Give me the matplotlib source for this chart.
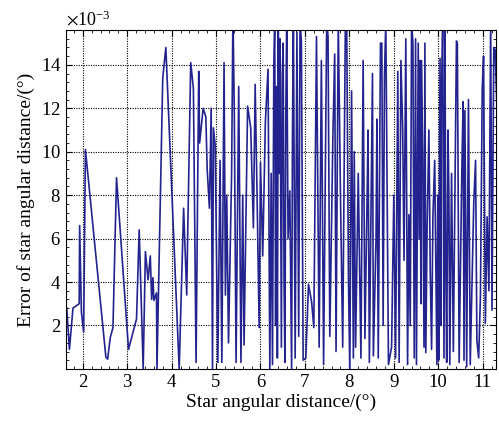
import matplotlib
matplotlib.use("Agg")
import matplotlib.pyplot as plt
from matplotlib.ticker import MultipleLocator, AutoMinorLocator, ScalarFormatter

plt.rcParams['font.family'] = ['Liberation Serif', 'DejaVu Serif']
plt.rcParams['mathtext.fontset'] = 'stix'

# star angular distance (deg) and its error (x 1e-3 deg)
angle = [
    1.64, 1.70, 1.78, 1.92, 1.93, 1.97, 2.02, 2.06, 2.52, 2.56, 2.62, 2.68,
    2.76, 3.03, 3.21, 3.27, 3.36, 3.41, 3.47, 3.52, 3.55, 3.58, 3.60, 3.66,
    3.67, 3.80, 3.87, 4.17, 4.27, 4.34, 4.36, 4.43, 4.49, 4.55, 4.61, 4.63,
    4.71, 4.77, 4.80, 4.85, 4.89, 4.92, 4.94, 4.98, 5.00, 5.04, 5.09, 5.13,
    5.18, 5.21, 5.24, 5.28, 5.35, 5.38, 5.41, 5.45, 5.51, 5.56, 5.60, 5.63,
    5.71, 5.78, 5.84, 5.88, 5.93, 5.97, 6.00, 6.05, 6.11, 6.17, 6.21, 6.24,
    6.27, 6.30, 6.32, 6.34, 6.36, 6.38, 6.40, 6.42, 6.44, 6.47, 6.49, 6.51,
    6.53, 6.55, 6.57, 6.59, 6.62, 6.66, 6.70, 6.72, 6.74, 6.78, 6.82, 6.86,
    6.89, 6.92, 6.96, 7.02, 7.08, 7.15, 7.20, 7.26, 7.32, 7.37, 7.42, 7.49,
    7.52, 7.56, 7.63, 7.67, 7.70, 7.75, 7.80, 7.85, 7.91, 7.94, 7.98, 8.01,
    8.05, 8.09, 8.11, 8.14, 8.20, 8.26, 8.31, 8.35, 8.40, 8.42, 8.45, 8.52,
    8.54, 8.60, 8.62, 8.65, 8.70, 8.73, 8.76, 8.79, 8.82, 8.86, 8.88, 8.95,
    9.00, 9.04, 9.09, 9.12, 9.16, 9.20, 9.23, 9.27, 9.31, 9.34, 9.37, 9.40,
    9.43, 9.46, 9.49, 9.51, 9.55, 9.57, 9.59, 9.61, 9.62, 9.65, 9.68, 9.70,
    9.72, 9.75, 9.79, 9.82, 9.85, 9.88, 9.92, 9.97, 9.99, 10.01, 10.04, 10.06,
    10.07, 10.10, 10.13, 10.15, 10.17, 10.19, 10.22, 10.24, 10.26, 10.30,
    10.34, 10.41, 10.43, 10.47, 10.53, 10.56, 10.58, 10.60, 10.64, 10.68,
    10.72, 10.80, 10.84, 10.87, 10.91, 10.95, 10.99, 11.02, 11.06, 11.10,
    11.14, 11.18, 11.21, 11.25, 11.28, 11.33,
]
error = [
    2.8, 0.9, 2.8, 3.0, 6.6, 2.6, 1.7, 10.1, 0.55, 0.45, 1.45, 1.9,
    8.8, 0.9, 2.3, 6.4, 0.0, 5.4, 4.1, 5.2, 3.2, 4.2, 3.15, 3.5,
    0.0, 13.4, 14.8, 0.0, 7.4, 3.4, 6.0, 14.1, 12.9, 0.3, 13.7, 10.4,
    12.0, 11.6, 9.2, 7.4, 12.0, 0.0, 11.1, 10.3, 7.1, 0.3, 9.6, 0.3,
    14.1, 3.4, 8.0, 1.2, 9.0, 16.5, 11.9, 0.3, 13.0, 0.3, 8.0, 1.1,
    12.1, 11.1, 6.5, 13.1, 7.1, 1.9, 9.5, 5.2, 11.4, 13.8, 0.0, 9.0,
    0.2, 14.0, 16.0, 2.0, 13.0, 0.5, 15.8, 9.0, 15.2, 1.0, 13.5, 15.0,
    4.0, 0.3, 12.0, 16.0, 6.0, 8.2, 0.0, 11.0, 16.0, 0.5, 15.5, 1.5,
    16.0, 15.1, 0.4, 0.5, 3.9, 3.1, 1.9, 15.3, 1.0, 14.2, 0.2, 16.0,
    15.3, 1.5, 10.8, 14.5, 0.8, 16.0, 8.0, 1.0, 16.0, 16.0, 4.0, 0.0,
    12.8, 0.5, 10.0, 1.0, 9.0, 0.5, 14.2, 1.4, 8.0, 11.0, 0.3, 13.6,
    0.6, 6.0, 11.5, 0.5, 15.0, 15.0, 2.0, 13.5, 16.0, 5.7, 0.2, 1.0,
    8.0, 0.5, 13.7, 0.3, 14.2, 11.0, 5.0, 15.2, 0.2, 7.1, 2.0, 16.0,
    15.0, 0.5, 15.2, 0.2, 15.0, 6.0, 14.2, 3.0, 14.2, 10.0, 1.0, 15.0,
    0.75, 6.5, 11.0, 4.5, 0.9, 7.0, 9.6, 0.2, 8.0, 0.4, 14.3, 2.0,
    12.2, 16.0, 0.5, 16.0, 5.0, 0.3, 11.0, 8.0, 0.2, 9.0,
    0.8, 15.1, 15.0, 0.3, 9.0, 12.3, 0.4, 11.9, 0.1, 12.4,
    0.2, 7.7, 9.6, 1.3, 0.5, 3.4, 12.9, 14.4, 2.1, 7.0,
    3.6, 16.0, 2.7, 14.8, 14.7, 11.4,
]

fig = plt.figure(figsize=(4.99, 4.24), dpi=100)
ax = fig.add_axes([0.132, 0.130, 0.862, 0.799])

ax.plot(angle, [e * 1e-3 for e in error], color='#23238f', linewidth=1.2)

ax.set_xlim(1.62, 11.3)
ax.set_ylim(0, 15.6e-3)
ax.xaxis.set_major_locator(MultipleLocator(1))
ax.set_yticks([v * 1e-3 for v in range(2, 15, 2)])
ax.xaxis.set_minor_locator(AutoMinorLocator(5))
ax.yaxis.set_minor_locator(AutoMinorLocator(5))

fmt = ScalarFormatter(useMathText=True)
fmt.set_powerlimits((-3, -3))
ax.yaxis.set_major_formatter(fmt)
ax.yaxis.get_offset_text().set_fontsize(13)

ax.tick_params(which='both', direction='in', top=True, right=True)
ax.tick_params(which='major', length=4, labelsize=13.5)
ax.tick_params(which='minor', length=2)
ax.grid(True, which='major', color='black', linestyle=(0, (1, 1.2)), linewidth=0.8)

ax.set_xlabel('Star angular distance/(°)', fontsize=14, labelpad=2)
ax.set_ylabel('Error of star angular distance/(°)', fontsize=14, labelpad=4)

fig.savefig('out.png', dpi=100)
